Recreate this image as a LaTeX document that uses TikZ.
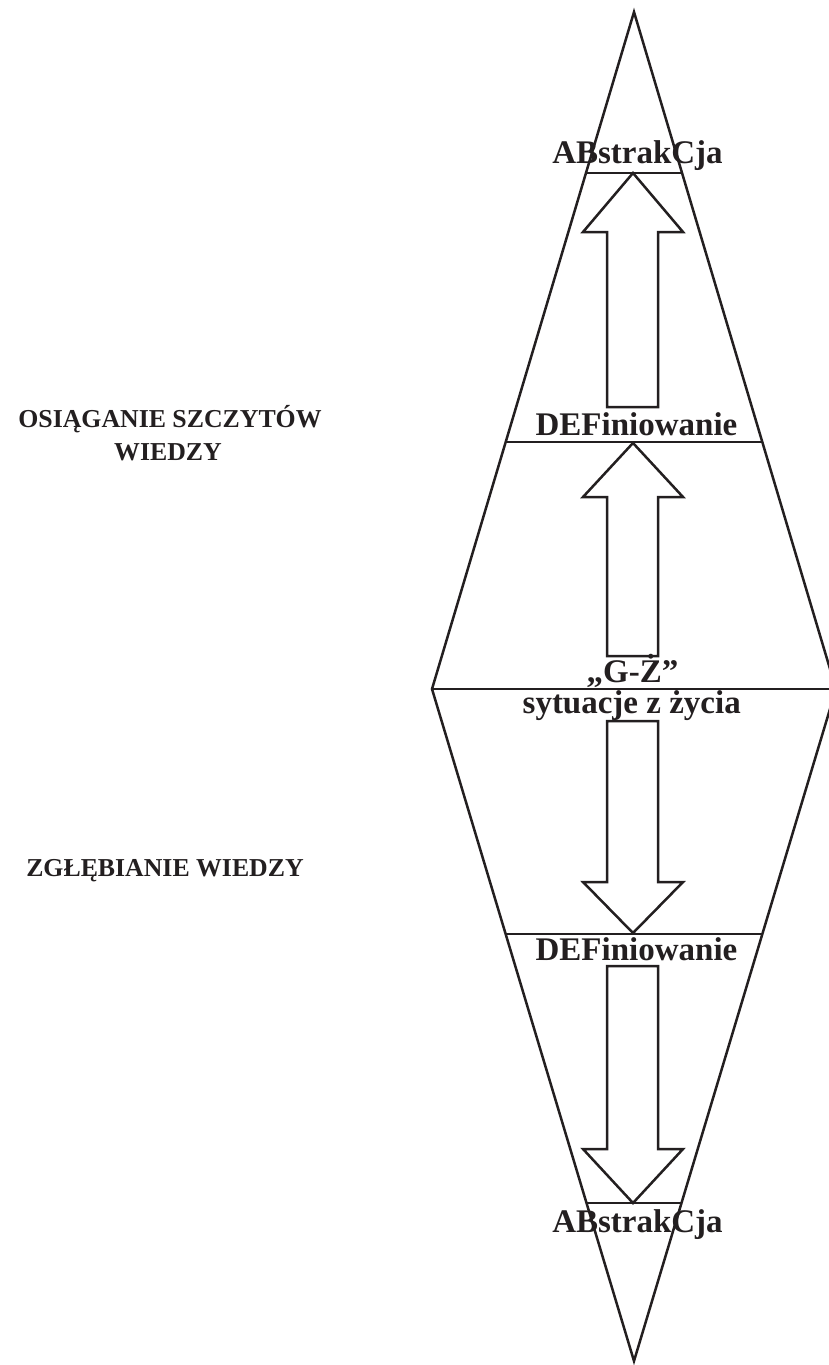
\documentclass[tikz,border=0pt]{standalone}
\usepackage{fontspec}
\setmainfont{Liberation Serif}
\definecolor{ink}{RGB}{35,31,32}
\newcommand\mainlbl{\fontsize{33}{33}\selectfont\bfseries}
\newcommand\sidelbl{\fontsize{25.8}{33}\selectfont\bfseries}
\tikzset{
  outline/.style={draw=ink, line width=2.5pt, line join=miter},
  blockarrow/.style={draw=ink, line width=2.5pt, line join=miter, fill=white},
  steplabel/.style={text=ink, inner sep=0pt, anchor=base, font=\mainlbl},
  sidelabel/.style={text=ink, inner sep=0pt, anchor=base, font=\sidelbl}
}
\begin{document}
\begin{tikzpicture}[x=1pt,y=-1pt]
\useasboundingbox (0,0) rectangle (829,1365);
\clip (0,0) rectangle (829,1365);
% diamond vertices
\coordinate (top) at (634,12);
\coordinate (left) at (432,689);
\coordinate (bottom) at (634,1361);
\coordinate (right) at (836,689);
\draw[outline] (top) -- (left) -- (bottom) -- (right) -- cycle;
% horizontal levels
\coordinate (l1a) at (586,173);   \coordinate (l1b) at (682,173);
\coordinate (l2a) at (505.7,442); \coordinate (l2b) at (762.3,442);
\coordinate (l4a) at (505.6,934); \coordinate (l4b) at (762.4,934);
\coordinate (l5a) at (586.5,1203);\coordinate (l5b) at (681.5,1203);
\draw[outline] (l1a) -- (l1b);
\draw[outline] (l2a) -- (l2b);
\draw[outline] (left) -- (right);
\draw[outline] (l4a) -- (l4b);
\draw[outline] (l5a) -- (l5b);
% block arrows
\draw[blockarrow] (607,407) -- (607,232) -- (583,232) -- (633,173) -- (683,232) -- (658,232) -- (658,407) -- cycle;
\draw[blockarrow] (607,656) -- (607,497) -- (583,497) -- (633,443) -- (683,497) -- (658,497) -- (658,656) -- cycle;
\draw[blockarrow] (607,721) -- (607,882) -- (583,882) -- (633,933) -- (683,882) -- (658,882) -- (658,721) -- cycle;
\draw[blockarrow] (607,966) -- (607,1149) -- (583,1149) -- (633,1203) -- (683,1149) -- (658,1149) -- (658,966) -- cycle;
% labels
\node[steplabel] (abs1) at (637.5,163) {ABstrakCja};
\node[steplabel] (def1) at (636.5,435) {DEFiniowanie};
\node[steplabel] (gz) at (632.5,682) {„G-Ż”};
\node[steplabel] (syt) at (631.7,713) {sytuacje z życia};
\node[steplabel] (def2) at (636.5,960) {DEFiniowanie};
\node[steplabel] (abs2) at (637.5,1232) {ABstrakCja};
\node[sidelabel] (os1) at (170,427) {OSIĄGANIE SZCZYTÓW};
\node[sidelabel] (os2) at (168,460) {WIEDZY};
\node[sidelabel] (zg) at (165,876) {ZGŁĘBIANIE WIEDZY};
\end{tikzpicture}
\end{document}
